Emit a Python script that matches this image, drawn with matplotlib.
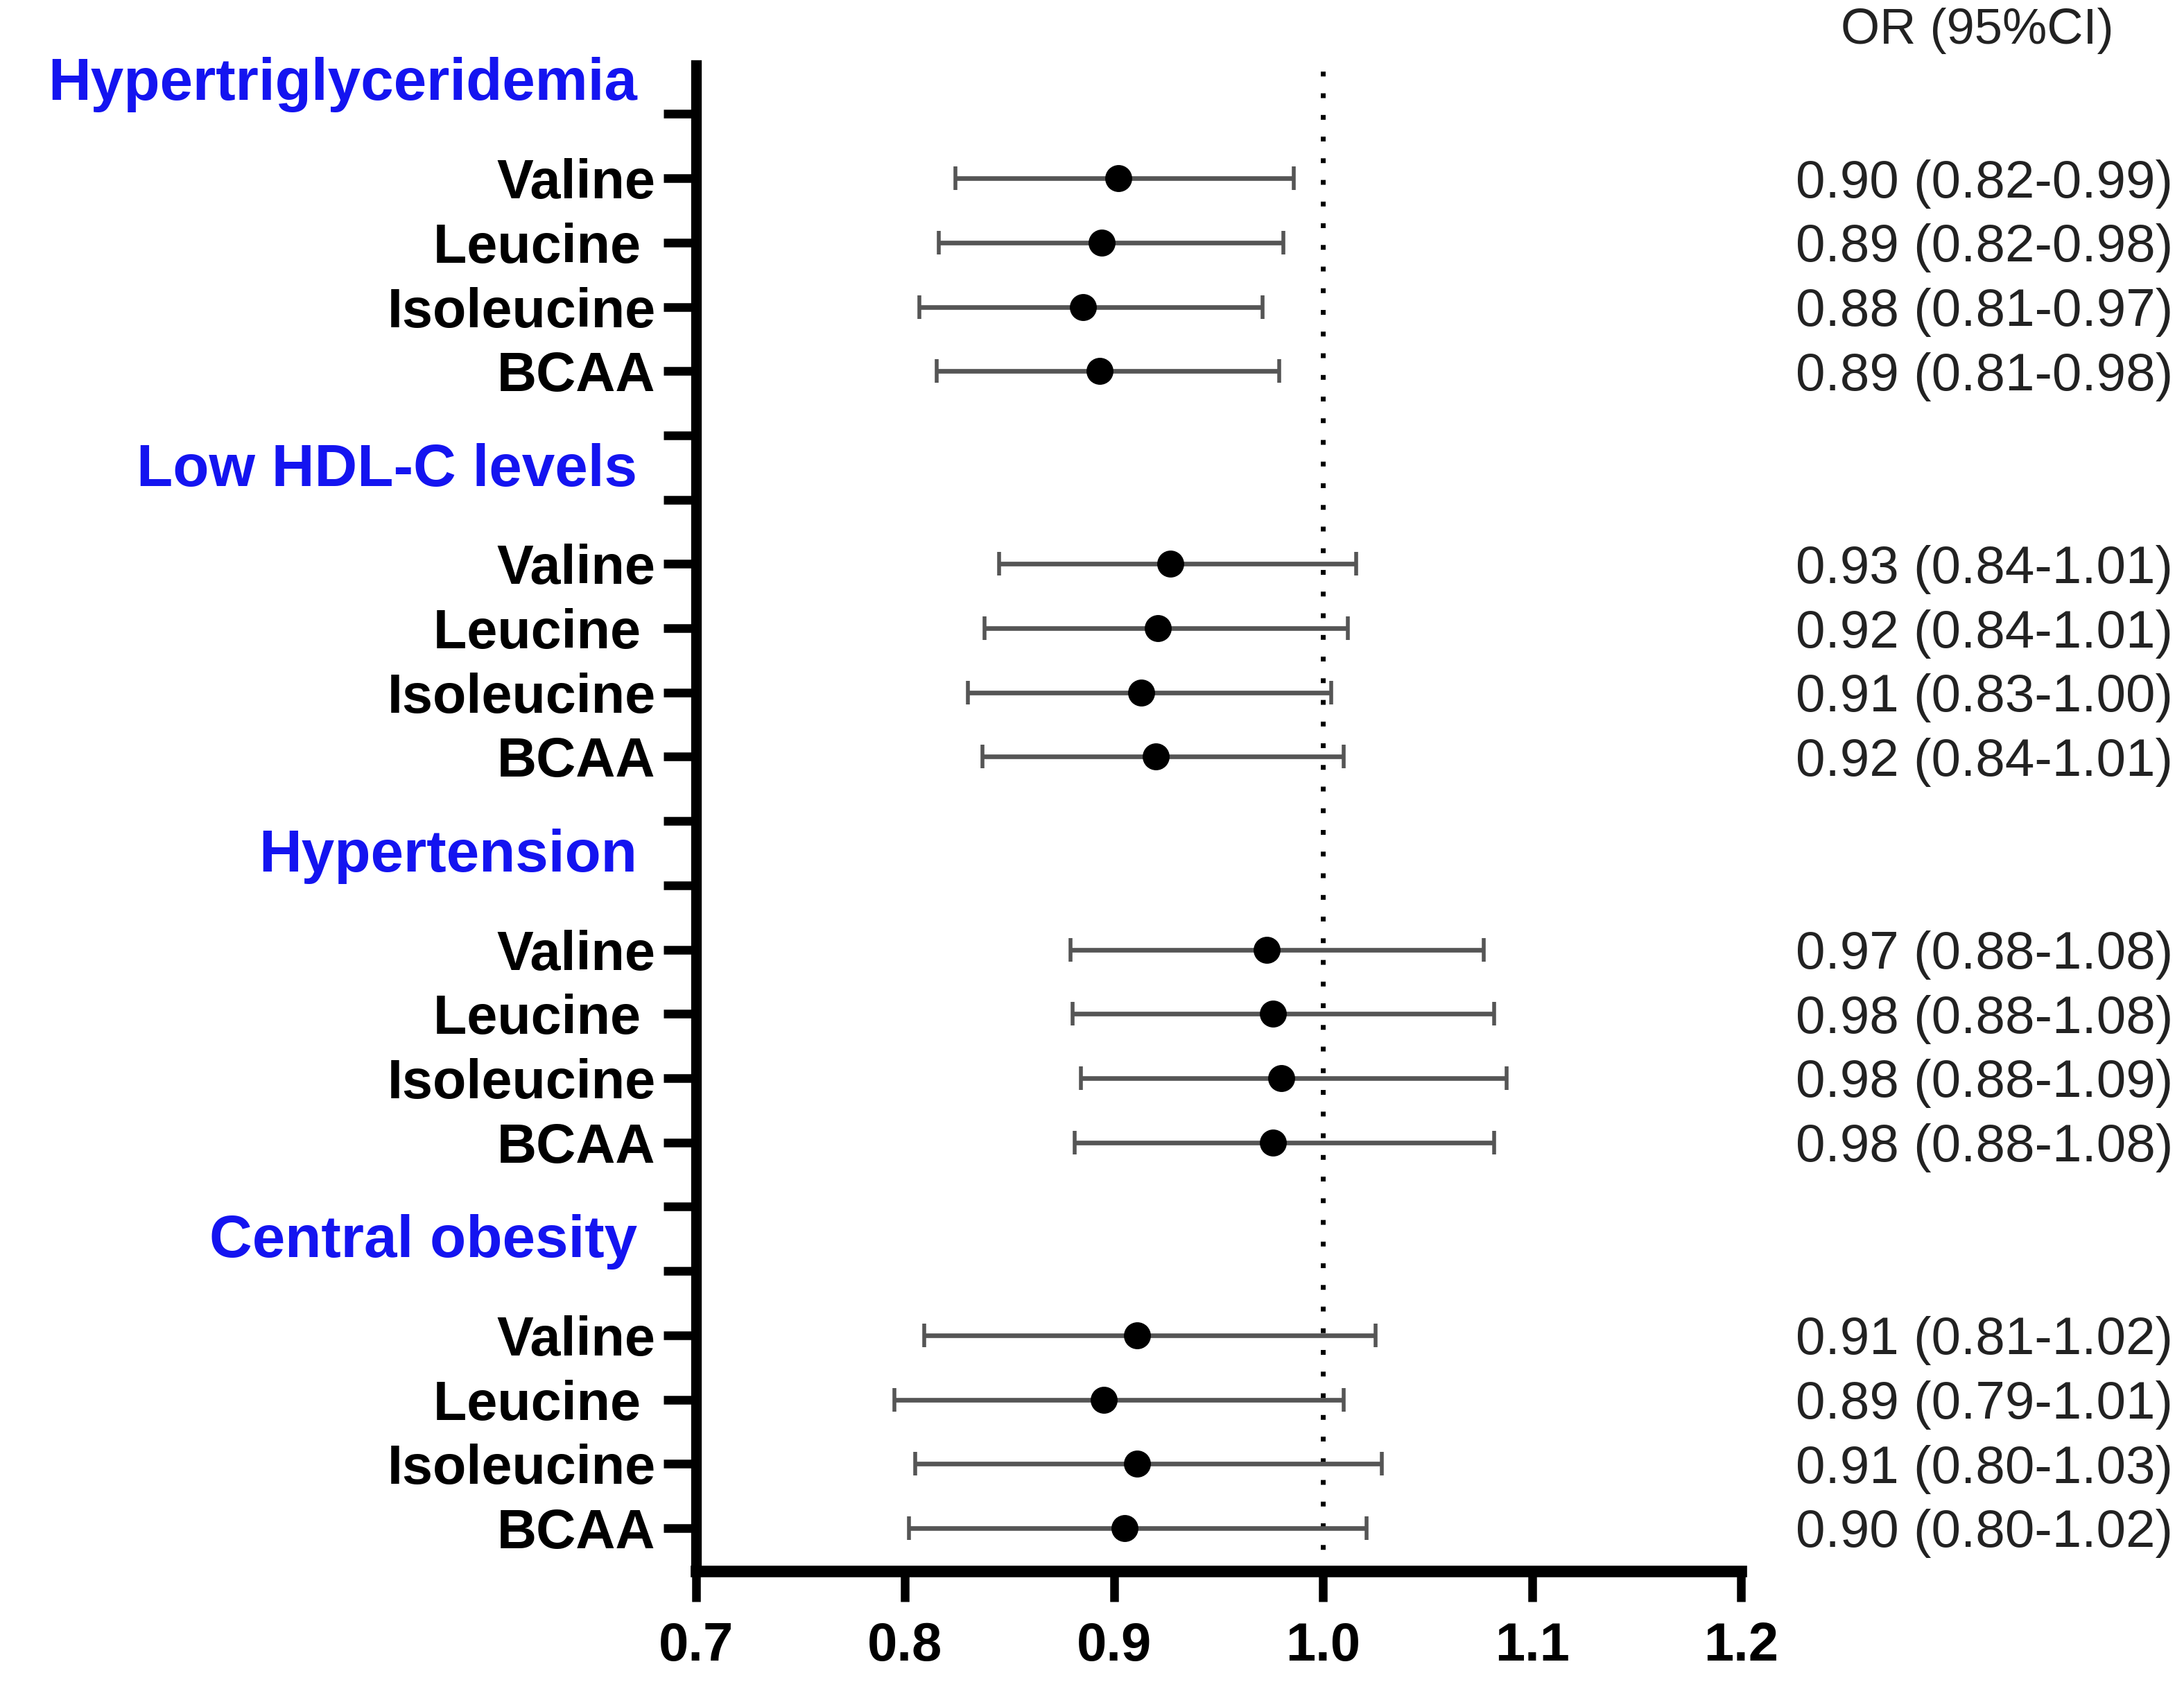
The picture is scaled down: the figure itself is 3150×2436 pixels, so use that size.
import numpy as np
import matplotlib.pyplot as plt

# ======================== DATA ============================
GROUPS = ["Hypertriglyceridemia", "Low HDL-C levels", "Hypertension", "Central obesity"]
AMINO = ["Valine", "Leucine ", "Isoleucine", "BCAA"]

# point estimates and CI ends, read off the marks (one list per group, Valine..BCAA)
or_htg = [0.902, 0.894, 0.885, 0.893]
lo_htg = [0.824, 0.816, 0.807, 0.815]
hi_htg = [0.986, 0.981, 0.971, 0.979]

or_hdl = [0.927, 0.921, 0.913, 0.920]
lo_hdl = [0.845, 0.838, 0.830, 0.837]
hi_hdl = [1.016, 1.012, 1.004, 1.010]

or_htn = [0.973, 0.976, 0.980, 0.976]
lo_htn = [0.879, 0.880, 0.884, 0.881]
hi_htn = [1.077, 1.082, 1.088, 1.082]

or_co = [0.911, 0.895, 0.911, 0.905]
lo_co = [0.809, 0.795, 0.805, 0.802]
hi_co = [1.025, 1.010, 1.028, 1.021]

# printed OR (95%CI) column
txt_htg = ["0.90 (0.82-0.99)", "0.89 (0.82-0.98)", "0.88 (0.81-0.97)", "0.89 (0.81-0.98)"]
txt_hdl = ["0.93 (0.84-1.01)", "0.92 (0.84-1.01)", "0.91 (0.83-1.00)", "0.92 (0.84-1.01)"]
txt_htn = ["0.97 (0.88-1.08)", "0.98 (0.88-1.08)", "0.98 (0.88-1.09)", "0.98 (0.88-1.08)"]
txt_co = ["0.91 (0.81-1.02)", "0.89 (0.79-1.01)", "0.91 (0.80-1.03)", "0.90 (0.80-1.02)"]

X_TICKS = [0.7, 0.8, 0.9, 1.0, 1.1, 1.2]

ors = [or_htg, or_hdl, or_htn, or_co]
los = [lo_htg, lo_hdl, lo_htn, lo_co]
his = [hi_htg, hi_hdl, hi_htn, hi_co]
txts = [txt_htg, txt_hdl, txt_htn, txt_co]

# ======================== PLOT ============================
plt.rcParams['font.family'] = ['Liberation Sans', 'DejaVu Sans']

fig = plt.figure(figsize=(15.75, 12.18), dpi=200)
ax = fig.add_axes([0.31873, 0.06978, 0.47841, 0.89163])

tick_pos = np.arange(0, 23)
tick_lab = [""] * len(tick_pos)

for g in range(len(GROUPS)):
    base = (len(GROUPS) - 1 - g) * 6
    rows = np.array([base + 3 - i for i in range(len(AMINO))])
    x = np.array(ors[g])
    xerr = np.vstack([x - np.array(los[g]), np.array(his[g]) - x])
    ax.errorbar(x, rows, xerr=xerr, fmt='none', ecolor='#555555', elinewidth=2.4,
                capsize=6, capthick=2.0, zorder=2)
    ax.plot(x, rows, 'o', color='black', markersize=13, zorder=3)
    for i, r in enumerate(rows):
        tick_lab[r] = AMINO[i]
        ax.text(1.0524, r, txts[g][i], transform=ax.get_yaxis_transform(),
                ha='left', va='center_baseline', fontsize=27.5, color='#222222', clip_on=False)
    ax.text(-0.0564, base + 4.5 + 0.05, GROUPS[g], transform=ax.get_yaxis_transform(),
            ha='right', va='center_baseline', fontsize=30.8, fontweight='bold',
            color='#1414f0', clip_on=False)

ax.text(1.0956, 23.37, "OR (95%CI)", transform=ax.get_yaxis_transform(),
        ha='left', va='center_baseline', fontsize=26, color='#222222', clip_on=False)

ax.axvline(1.0, color='black', lw=2.5, linestyle=(0, (1, 3.5)), zorder=1)

ax.set_xlim(0.7, 1.2)
ax.set_ylim(-0.67, 22.76)
ax.set_xticks(X_TICKS)
ax.set_xticklabels([f"{v:.1f}" for v in X_TICKS], fontsize=28, fontweight='bold')
ax.set_yticks(tick_pos)
ax.set_yticklabels(tick_lab, fontsize=28.5, fontweight='bold')

for s in ['top', 'right']:
    ax.spines[s].set_visible(False)
ax.spines['left'].set_linewidth(5.5)
ax.spines['bottom'].set_linewidth(6)
ax.tick_params(axis='y', length=17, width=4.5, pad=4)
ax.tick_params(axis='x', length=16, width=4.5, pad=10)

fig.savefig("out.png", dpi=200, facecolor='white')
